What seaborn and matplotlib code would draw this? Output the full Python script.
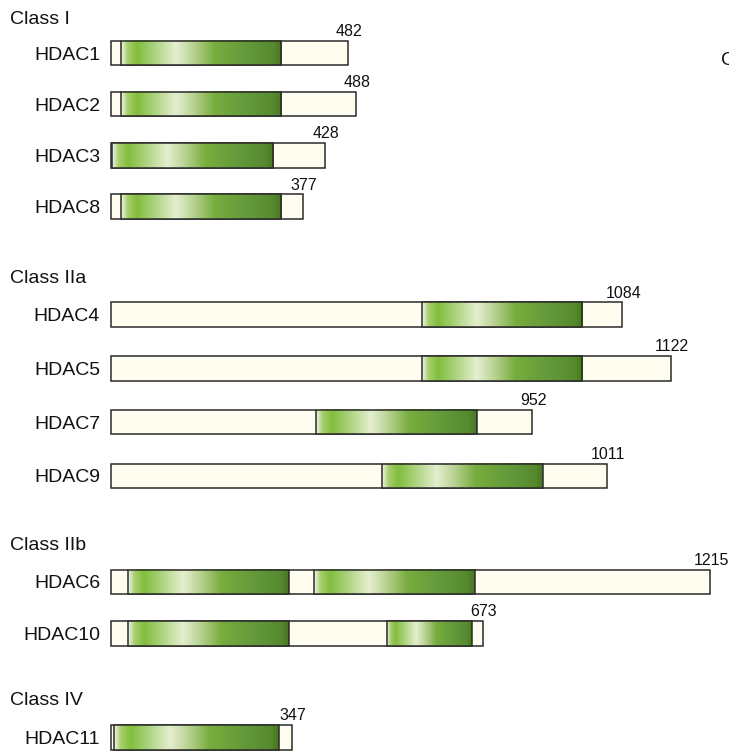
import numpy as np
import pandas as pd
import matplotlib
matplotlib.use("Agg")
import matplotlib.pyplot as plt
import seaborn as sns
from matplotlib.colors import LinearSegmentedColormap
from matplotlib.patches import Rectangle

# ---------------- data ----------------
classes = ["Class I", "Class IIa", "Class IIb", "Class IV"]
proteins = ["HDAC1", "HDAC2", "HDAC3", "HDAC8",
            "HDAC4", "HDAC5", "HDAC7", "HDAC9",
            "HDAC6", "HDAC10", "HDAC11"]
protein_class = ["Class I"] * 4 + ["Class IIa"] * 4 + ["Class IIb"] * 2 + ["Class IV"]
aa_length = [482, 488, 428, 377, 1084, 1122, 952, 1011, 1215, 673, 347]
# drawn extent of each protein bar (diagram units, as drawn)
drawn_length = [481, 497, 434, 390, 1037, 1135, 855, 1006, 1215, 754, 368]
# deacetylase domains (diagram units)
domain_start = [[20], [20], [3], [20], [631], [631], [417], [551], [35, 413], [35, 560], [7]]
domain_end = [[345], [345], [330], [345], [956], [956], [742], [877], [361, 738], [361, 732], [341]]

# ---------------- layout / style ----------------
W, H = 729, 753
K = 0.49325          # pixels per diagram unit
X0 = 110.7           # pixel x of position 0


def ux(px):
    return (px - X0) / K


header_base = [24, 283, 549.5, 705]
first_offset = [29, 31.5, 32.5, 32.5]
row_gap = [51.2, 53.8, 51.5, 0]
bar_h = 24.5

row_y = []
for gi, cls in enumerate(classes):
    n = 0
    for pc in protein_class:
        if pc == cls:
            row_y.append(header_base[gi] + first_offset[gi] + n * row_gap[gi])
            n += 1

cream = "#fffdf0"
edge = "#2a2a2a"
lw = 1.1
cmap = LinearSegmentedColormap.from_list("dom", [
    (0.00, "#eef5dc"),
    (0.04, "#a6d06a"),
    (0.10, "#82bd3e"),
    (0.20, "#a9d17b"),
    (0.34, "#e5efd0"),
    (0.46, "#b3d08a"),
    (0.58, "#78ad3e"),
    (0.80, "#62983a"),
    (0.95, "#578a2f"),
    (1.00, "#4a7426"),
])

sns.set_theme(style="white")
plt.rcParams["font.family"] = ["Liberation Sans", "DejaVu Sans"]

fig = plt.figure(figsize=(W / 100, H / 100), dpi=100)
ax = fig.add_axes([0, 0, 1, 1])

df = pd.DataFrame({"protein": proteins, "length": drawn_length, "y": row_y})
min_gap = np.min(np.diff(np.sort(np.array(row_y))))
sns.barplot(data=df, x="length", y="y", orient="h", native_scale=True,
            width=bar_h / min_gap, color=cream, saturation=1,
            edgecolor=edge, linewidth=lw, errorbar=None, ax=ax, zorder=2)

grad = np.linspace(0, 1, 256).reshape(1, -1)
for i, name in enumerate(proteins):
    yc = row_y[i]
    for s, e in zip(domain_start[i], domain_end[i]):
        ax.imshow(grad, cmap=cmap, extent=(s, e, yc + bar_h / 2, yc - bar_h / 2),
                  aspect="auto", interpolation="bicubic", zorder=3)
        ax.add_patch(Rectangle((s, yc - bar_h / 2), e - s, bar_h, fill=False,
                               ec=edge, lw=lw, zorder=4))
    ax.text(ux(100), yc + 6.5, name, ha="right", va="baseline", fontsize=14,
            color="#111111")
    ax.text(drawn_length[i] + 2, yc - 17, str(aa_length[i]), ha="center",
            va="baseline", fontsize=11.5, color="#111111")

for gi, cls in enumerate(classes):
    ax.text(ux(10), header_base[gi], cls, ha="left", va="baseline", fontsize=14,
            color="#111111")

# partially visible letter at the right edge
ax.text(ux(721.5), 65, "C", ha="left", va="baseline", fontsize=14,
        color="#111111", clip_on=False)

ax.set_xlim(ux(0), ux(W))
ax.set_ylim(H, 0)
ax.axis("off")
fig.savefig("out.png", dpi=100, facecolor="white")
